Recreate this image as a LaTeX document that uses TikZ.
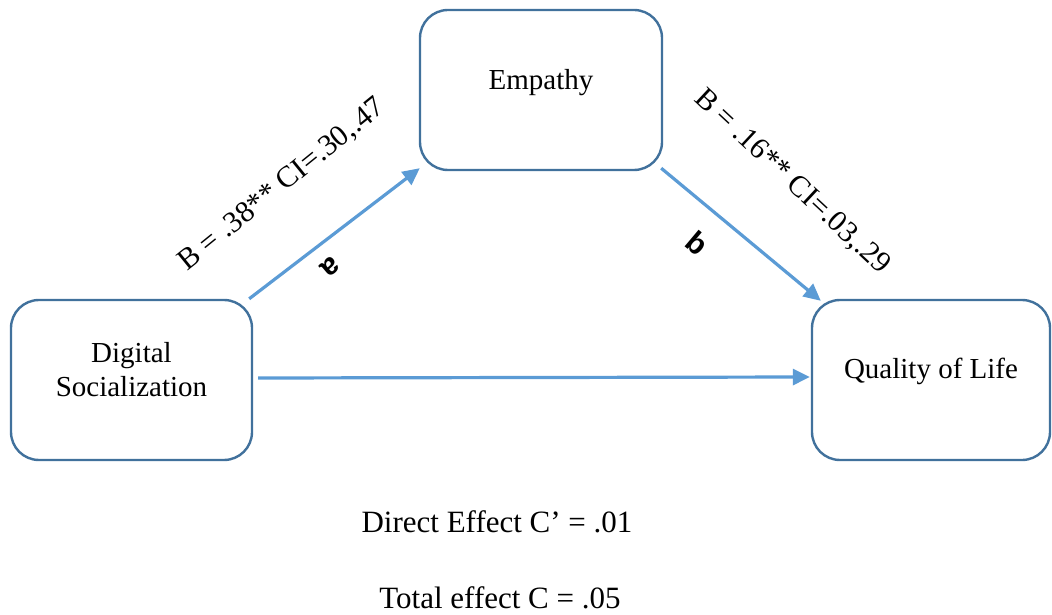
\documentclass[tikz,border=0pt]{standalone}
\usepackage{fontspec}
\setmainfont{Liberation Serif}
\newfontfamily\labelsans{Liberation Sans}
\usetikzlibrary{arrows.meta,calc}
\definecolor{boxline}{HTML}{41719C}
\definecolor{arrowblue}{HTML}{5B9BD5}
\begin{document}
\begin{tikzpicture}[x=1pt,y=1pt,
  varbox/.style={draw=boxline,line width=2.4pt,rounded corners=28pt,fill=white,
    minimum height=160pt,inner sep=0pt},
  boxtext/.style={font=\fontsize{29}{35}\selectfont,align=center,inner sep=0pt},
  path/.style={draw=arrowblue,line width=3.2pt,
    -{Triangle[length=17pt,width=16pt]}},
  coef/.style={font=\fontsize{30}{36}\selectfont,inner sep=0pt},
  pathname/.style={font=\labelsans\bfseries\fontsize{30}{34}\selectfont,inner sep=0pt},
  effect/.style={font=\fontsize{31}{37}\selectfont,inner sep=0pt}]
\useasboundingbox (0,0) rectangle (1052,614);

% the three variables
\node[varbox,minimum width=241pt] (ds) at (131.5,234) {};
\node[varbox,minimum width=242pt] (em) at (541,524) {};
\node[varbox,minimum width=238pt] (ql) at (931,234) {};

\node[boxtext] (dstext) at ($(ds.center)+(0,10)$) {Digital\\[-1pt]Socialization};
\node[boxtext] (emtext) at ($(em.center)+(0,7)$) {Empathy};
\node[boxtext] (qltext) at ($(ql.center)+(0,9)$) {Quality of Life};

% paths a, b and the direct path
\draw[path] ($(ds.north east)+(-4,0)$) -- ($(em.south west)+(1,3)$);
\draw[path] ($(em.south east)+(-2,3)$) -- ($(ql.north west)+(10,-2)$);
\draw[path] ($(ds.east)+(5,2)$) -- ($(ql.west)+(-1,3)$);

% coefficients
\node[coef,rotate=39] (coefa) at (282,429) {B = .38** CI=.30,.47};
\node[coef,rotate=-43] (coefb) at (792,432) {B = .16** CI=.03,.29};
\node[pathname,rotate=-140] (namea) at (330,347) {a};
\node[pathname,rotate=-40] (nameb) at (697,371) {b};

% effects
\node[effect] (direct) at (497,92) {Direct Effect C’ = .01};
\node[effect] (total) at (500,16) {Total effect C = .05};
\end{tikzpicture}
\end{document}
